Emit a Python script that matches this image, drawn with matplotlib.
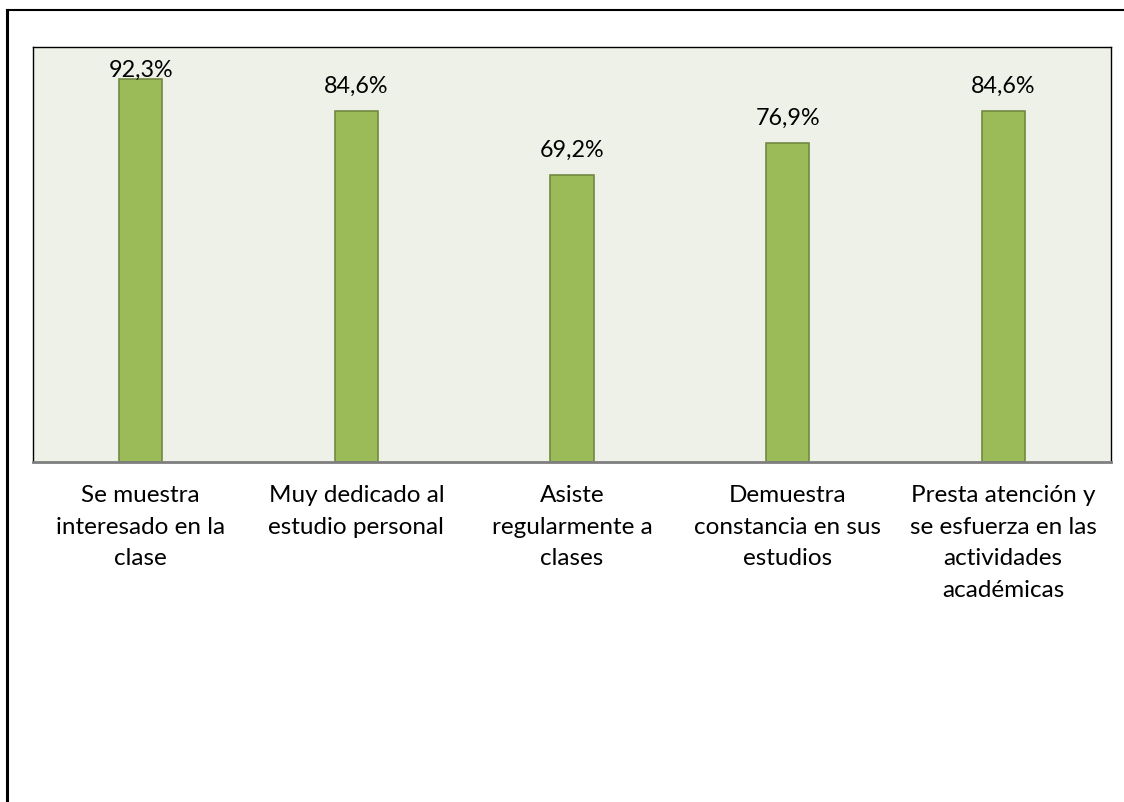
import matplotlib.pyplot as plt
from matplotlib.lines import Line2D
import numpy as np

categorias = [
    "Se muestra\ninteresado en la\nclase",
    "Muy dedicado al\nestudio personal",
    "Asiste\nregularmente a\nclases",
    "Demuestra\nconstancia en sus\nestudios",
    "Presta atención y\nse esfuerza en las\nactividades\nacadémicas",
]
porcentajes = [92.3, 84.6, 69.2, 76.9, 84.6]

plt.rcParams['font.family'] = ['Lato', 'DejaVu Sans']

W, H = 1124, 802
fig = plt.figure(figsize=(W / 100, H / 100), dpi=100)
fig.patch.set_facecolor('white')

# plot area in pixel coordinates
x0, x1, y_top, y_bot = 33, 1111, 47, 462
ax = fig.add_axes([x0 / W, (H - y_bot) / H, (x1 - x0) / W, (y_bot - y_top) / H])
ax.set_facecolor('#EEF1E7')

x = np.arange(len(categorias))
ax.bar(x, porcentajes, width=0.2, color='#9BBB59', edgecolor='#71893F', linewidth=1.2, zorder=2)

# value labels sit a little above each bar, kept inside the plot area
for xi, v in zip(x, porcentajes):
    ax.text(xi, min(v + 4.4, 92.8), f"{v:.1f}%".replace('.', ','), ha='center', va='baseline',
            fontsize=16.8, color='black')

ax.set_xlim(-0.5, len(categorias) - 0.5)
ax.set_ylim(0, 100)
ax.set_yticks([])
ax.set_xticks(x)
ax.set_xticklabels(categorias, fontsize=17.5, linespacing=1.63)
ax.tick_params(axis='x', length=0, pad=16.5)

for side in ['top', 'left', 'right']:
    ax.spines[side].set_color('black')
    ax.spines[side].set_linewidth(1.0)
ax.spines['bottom'].set_color('#7F7F7F')
ax.spines['bottom'].set_linewidth(2.0)

# outer chart frame (left and top edges)
fig.add_artist(Line2D([7 / W, 7 / W], [0, 1 - 10 / H], transform=fig.transFigure,
                      color='black', linewidth=2.2))
fig.add_artist(Line2D([7 / W, 1], [1 - 10 / H, 1 - 10 / H], transform=fig.transFigure,
                      color='black', linewidth=1.5))

fig.savefig('out.png', dpi=100)
